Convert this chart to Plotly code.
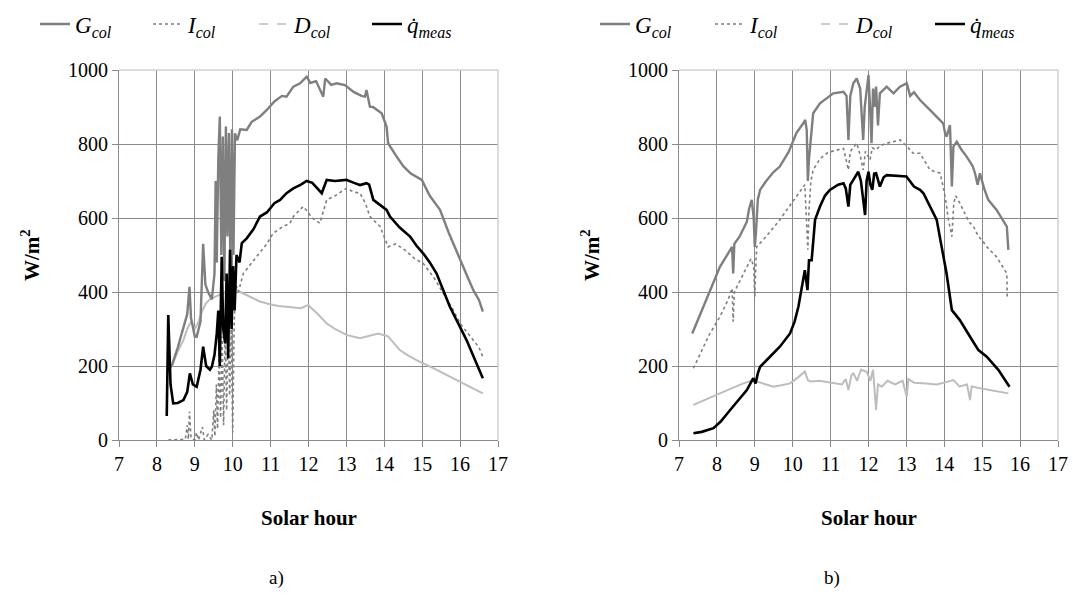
import plotly.graph_objects as go

# ---------------- Data: panel a) ----------------
a_G_t = [8.30, 8.40, 8.55, 8.70, 8.80, 8.86, 8.90, 9.00, 9.05, 9.15, 9.22, 9.28, 9.35, 9.45, 9.52, 9.55,
         9.58, 9.62, 9.66, 9.70, 9.74, 9.78, 9.82, 9.86, 9.90, 9.94, 9.98, 10.02, 10.06, 10.12, 10.20,
         10.37, 10.50, 10.72, 10.90, 11.10, 11.30, 11.42, 11.60, 11.78, 11.95, 12.05, 12.20, 12.39, 12.44,
         12.60, 12.74, 12.96, 13.20, 13.40, 13.49, 13.53, 13.62, 13.70, 13.93, 14.06, 14.10, 14.30, 14.50,
         14.70, 14.99, 15.20, 15.47, 15.70, 16.00, 16.20, 16.35, 16.50, 16.60]
a_G_v = [190, 203, 250, 300, 340, 414, 330, 280, 279, 320, 530, 420, 400, 380, 450, 700,
         480, 760, 874, 500, 820, 430, 847, 550, 830, 450, 840, 500, 829, 810, 840,
         838, 860, 874, 892, 915, 930, 928, 955, 964, 982, 965, 970, 928, 977,
         960, 964, 959, 940, 930, 928, 946, 901, 900, 883, 847, 802, 770, 740,
         720, 703, 660, 622, 560, 486, 440, 405, 378, 347]

a_I_t = [8.30, 8.60, 8.75, 8.80, 8.83, 8.86, 8.90, 9.00, 9.05, 9.10, 9.20, 9.25, 9.35, 9.45, 9.50, 9.53,
         9.57, 9.60, 9.64, 9.68, 9.72, 9.76, 9.80, 9.84, 9.88, 9.92, 9.96, 10.00, 10.04, 10.08, 10.15,
         10.28, 10.50, 10.72, 10.90, 11.07, 11.30, 11.51, 11.60, 11.86, 11.95, 12.10, 12.30, 12.48, 12.70,
         13.00, 13.20, 13.36, 13.50, 13.62, 13.89, 14.10, 14.30, 14.55, 14.80, 15.03, 15.30, 15.56, 15.80,
         16.00, 16.20, 16.35, 16.50, 16.60]
a_I_v = [0, 0, 2, 40, 2, 77, 5, 0, 20, 0, 35, 0, 15, 0, 80, 10,
         150, 30, 230, 60, 280, 40, 300, 80, 320, 120, 300, 20, 320, 420, 400,
         450, 480, 507, 530, 559, 575, 586, 604, 631, 620, 600, 586, 649, 660,
         680, 670, 667, 640, 604, 577, 522, 530, 513, 490, 477, 440, 396, 355,
         315, 290, 270, 250, 225]

a_D_t = [8.30, 8.40, 8.55, 8.70, 8.80, 8.90, 9.00, 9.10, 9.20, 9.30, 9.40, 9.50, 9.60, 9.70, 9.80, 9.90,
         10.00, 10.10, 10.28, 10.50, 10.70, 10.90, 11.20, 11.42, 11.80, 12.00, 12.04, 12.25, 12.48, 12.70,
         13.00, 13.36, 13.60, 13.84, 14.10, 14.41, 14.60, 14.85, 15.29, 15.60, 16.00, 16.30, 16.60]
a_D_v = [185, 200, 240, 270, 300, 320, 300, 320, 350, 370, 380, 385, 390, 395, 400, 395,
         400, 405, 396, 385, 375, 369, 362, 360, 356, 365, 360, 340, 315, 300,
         284, 275, 282, 288, 280, 243, 230, 216, 194, 178, 158, 142, 126]

a_q_t = [8.26, 8.30, 8.36, 8.43, 8.55, 8.70, 8.80, 8.87, 8.95, 9.05, 9.15, 9.22, 9.30, 9.40, 9.45, 9.52,
         9.58, 9.62, 9.66, 9.71, 9.75, 9.80, 9.84, 9.88, 9.93, 9.97, 10.01, 10.05, 10.10, 10.18, 10.24,
         10.37, 10.55, 10.72, 10.90, 11.10, 11.25, 11.42, 11.60, 11.80, 11.95, 12.10, 12.35, 12.42, 12.48,
         12.70, 13.00, 13.20, 13.36, 13.53, 13.60, 13.71, 13.90, 14.06, 14.15, 14.40, 14.68, 14.85, 15.03,
         15.20, 15.38, 15.55, 15.73, 16.00, 16.17, 16.40, 16.60]
a_q_v = [65, 338, 150, 99, 100, 108, 130, 180, 150, 144, 190, 252, 200, 190, 198, 230,
         288, 350, 200, 495, 300, 261, 450, 220, 514, 300, 470, 350, 500, 480, 532,
         545, 570, 604, 615, 640, 649, 667, 680, 690, 700, 695, 667, 690, 703,
         700, 703, 695, 689, 694, 690, 649, 635, 622, 604, 575, 550, 525, 504,
         480, 450, 405, 360, 305, 270, 215, 167]

# ---------------- Data: panel b) ----------------
b_G_t = [7.35, 7.60, 7.80, 7.99, 8.08, 8.30, 8.40, 8.43, 8.46, 8.60, 8.79, 8.85, 8.92, 8.97, 9.00, 9.03,
         9.08, 9.14, 9.30, 9.50, 9.66, 9.90, 10.10, 10.28, 10.33, 10.37, 10.40, 10.43, 10.47, 10.54, 10.72,
         10.90, 11.07, 11.34, 11.42, 11.47, 11.52, 11.60, 11.69, 11.78, 11.83, 11.86, 11.90, 11.95, 12.00,
         12.04, 12.08, 12.12, 12.16, 12.20, 12.25, 12.30, 12.48, 12.66, 12.83, 13.01, 13.10, 13.20, 13.36,
         13.62, 13.71, 13.97, 14.02, 14.06, 14.15, 14.20, 14.24, 14.33, 14.45, 14.59, 14.75, 14.81, 14.88,
         14.94, 15.05, 15.16, 15.38, 15.55, 15.65, 15.69]
b_G_v = [288, 350, 400, 450, 468, 505, 522, 450, 530, 550, 590, 625, 649, 600, 522, 560,
         650, 676, 700, 725, 739, 780, 830, 856, 865, 838, 700, 760, 800, 883, 910,
         925, 937, 941, 930, 811, 930, 964, 977, 950, 880, 811, 900, 940, 986,
         900, 802, 950, 900, 955, 850, 937, 955, 937, 955, 964, 930, 940, 919,
         892, 883, 856, 830, 820, 851, 685, 793, 806, 785, 766, 740, 721, 690,
         721, 680, 649, 622, 595, 577, 514]

b_I_t = [7.38, 7.60, 7.80, 8.08, 8.30, 8.40, 8.43, 8.46, 8.60, 8.79, 8.90, 8.97, 9.00, 9.03, 9.05, 9.30,
         9.50, 9.66, 9.90, 10.10, 10.28, 10.32, 10.36, 10.40, 10.43, 10.48, 10.54, 10.72, 10.90, 11.10,
         11.34, 11.40, 11.47, 11.52, 11.69, 11.78, 11.86, 11.92, 12.04, 12.10, 12.20, 12.30, 12.48, 12.83,
         13.00, 13.18, 13.36, 13.62, 13.89, 13.97, 14.05, 14.10, 14.20, 14.25, 14.30, 14.41, 14.55, 14.65,
         14.77, 14.90, 15.00, 15.12, 15.38, 15.65, 15.66]
b_I_v = [194, 240, 285, 333, 380, 410, 320, 400, 430, 468, 490, 470, 387, 480, 522, 550,
         575, 595, 630, 660, 685, 690, 600, 514, 622, 700, 730, 760, 775, 782,
         788, 760, 730, 780, 802, 770, 730, 780, 757, 790, 784, 795, 802, 811,
         795, 775, 775, 730, 721, 685, 640, 600, 550, 640, 660, 640, 610, 590,
         577, 550, 540, 522, 495, 450, 387]

b_D_t = [7.38, 7.70, 8.08, 8.40, 8.70, 8.96, 9.05, 9.30, 9.49, 9.70, 9.93, 10.15, 10.32, 10.40, 10.46, 10.70,
         11.07, 11.30, 11.40, 11.47, 11.55, 11.60, 11.70, 11.80, 11.95, 12.05, 12.12, 12.20, 12.25, 12.35,
         12.50, 12.70, 12.90, 13.01, 13.05, 13.20, 13.53, 13.80, 14.00, 14.24, 14.40, 14.60, 14.68, 14.72,
         14.94, 15.20, 15.45, 15.69]
b_D_v = [95, 110, 126, 140, 153, 162, 158, 150, 144, 148, 153, 170, 185, 162, 158, 160,
         153, 150, 165, 135, 175, 180, 160, 190, 185, 160, 190, 81, 150, 144,
         160, 150, 160, 117, 165, 155, 153, 150, 155, 162, 145, 150, 108, 145,
         140, 135, 130, 126]

b_q_t = [7.38, 7.60, 7.91, 8.10, 8.35, 8.60, 8.79, 8.96, 9.02, 9.08, 9.14, 9.40, 9.66, 9.93, 10.05, 10.15,
         10.25, 10.32, 10.39, 10.43, 10.50, 10.59, 10.72, 10.85, 10.98, 11.20, 11.34, 11.40, 11.47, 11.52,
         11.60, 11.73, 11.80, 11.88, 11.91, 11.95, 12.00, 12.05, 12.10, 12.15, 12.20, 12.30, 12.40, 12.48,
         12.83, 13.00, 13.20, 13.36, 13.45, 13.62, 13.80, 13.93, 14.06, 14.20, 14.41, 14.68, 14.90, 15.12,
         15.43, 15.72]
b_q_v = [18, 22, 32, 50, 81, 110, 135, 167, 153, 180, 198, 225, 252, 288, 320, 360,
         420, 459, 405, 486, 486, 595, 631, 660, 676, 690, 694, 680, 631, 690,
         703, 725, 700, 640, 608, 700, 725, 690, 676, 720, 721, 685, 710, 716,
         712, 712, 685, 676, 667, 631, 595, 522, 450, 351, 324, 279, 243, 225,
         189, 144]

x_ticks = [7, 8, 9, 10, 11, 12, 13, 14, 15, 16, 17]
y_ticks = [0, 200, 400, 600, 800, 1000]
series_names = ["G<sub>col</sub>", "I<sub>col</sub>", "D<sub>col</sub>", "q\u0307<sub>meas</sub>"]
panel_labels = ["a)", "b)"]

# ---------------- Styles ----------------
GRAY = "#7f7f7f"
LIGHT = "#bdbdbd"
SERIF = "Liberation Serif, Times New Roman, serif"

fig = go.Figure()

panels = [
    ("x", "y", a_G_t, a_G_v, a_I_t, a_I_v, a_D_t, a_D_v, a_q_t, a_q_v),
    ("x2", "y2", b_G_t, b_G_v, b_I_t, b_I_v, b_D_t, b_D_v, b_q_t, b_q_v),
]
legend_ids = [["legend", "legend2", "legend3", "legend4"], ["legend5", "legend6", "legend7", "legend8"]]

for p, (xa, ya, Gt, Gv, It, Iv, Dt, Dv, qt, qv) in enumerate(panels):
    lg = legend_ids[p]
    fig.add_trace(go.Scatter(x=Dt, y=Dv, xaxis=xa, yaxis=ya, mode="lines", showlegend=False,
                             line=dict(color=LIGHT, width=2)))
    fig.add_trace(go.Scatter(x=It, y=Iv, xaxis=xa, yaxis=ya, mode="lines", name=series_names[1],
                             legend=lg[1], line=dict(color=GRAY, width=1.6, dash="dot")))
    fig.add_trace(go.Scatter(x=Gt, y=Gv, xaxis=xa, yaxis=ya, mode="lines", name=series_names[0],
                             legend=lg[0], line=dict(color=GRAY, width=2.4)))
    fig.add_trace(go.Scatter(x=qt, y=qv, xaxis=xa, yaxis=ya, mode="lines", name=series_names[3],
                             legend=lg[3], line=dict(color="black", width=2.6)))
    # legend entry for D (dashed symbol)
    fig.add_trace(go.Scatter(x=[None], y=[None], xaxis=xa, yaxis=ya, mode="lines", name=series_names[2],
                             legend=lg[2], line=dict(color=LIGHT, width=1.6, dash="dash")))

W, H = 1073, 601
x_domains = [[119 / W, 498 / W], [679 / W, 1058 / W]]
y_domain = [1 - 440 / H, 1 - 70 / H]

axis_common = dict(range=[7, 17], tickvals=x_ticks, showgrid=True, gridcolor="#8a8a8a", gridwidth=1,
                   showline=True, linecolor="#8a8a8a", linewidth=1, ticks="outside", ticklen=6,
                   tickcolor="#8a8a8a", zeroline=False,
                   tickfont=dict(family=SERIF, size=20, color="black"))
yaxis_common = dict(range=[0, 1000], tickvals=y_ticks, showgrid=True, gridcolor="#8a8a8a", gridwidth=1,
                    showline=True, linecolor="#8a8a8a", linewidth=1, ticks="outside", ticklen=6,
                    tickcolor="#8a8a8a", zeroline=False,
                    tickfont=dict(family=SERIF, size=20, color="black"))

layout = dict(
    width=W, height=H, margin=dict(l=0, r=0, t=0, b=0, autoexpand=False),
    paper_bgcolor="white", plot_bgcolor="white", showlegend=True,
    xaxis=dict(domain=x_domains[0], anchor="y", **axis_common),
    yaxis=dict(domain=y_domain, anchor="x", **yaxis_common),
    xaxis2=dict(domain=x_domains[1], anchor="y2", **axis_common),
    yaxis2=dict(domain=y_domain, anchor="x2", **yaxis_common),
)

# legends: one per entry, placed along the top
leg_x = [[35, 148, 254, 367], [595, 710, 816, 930]]
for p in range(2):
    for k in range(4):
        layout[legend_ids[p][k]] = dict(
            x=leg_x[p][k] / W, y=1 - 24 / H, xanchor="left", yanchor="middle",
            orientation="h", bgcolor="rgba(0,0,0,0)", borderwidth=0,
            font=dict(family=SERIF, size=23, color="black", style="italic"),
            itemwidth=30, tracegroupgap=0)

fig.update_layout(**layout)

# light border on top/right of each plot area
for xa, ya in [("x", "y"), ("x2", "y2")]:
    fig.add_shape(type="line", xref=f"{xa} domain", yref=f"{ya} domain", x0=0, x1=1, y0=1, y1=1,
                  line=dict(color="#d0d0d0", width=1.5), layer="above")
    fig.add_shape(type="line", xref=f"{xa} domain", yref=f"{ya} domain", x0=1, x1=1, y0=0, y1=1,
                  line=dict(color="#d0d0d0", width=1.5), layer="above")

# axis titles and panel labels
for p, xa in enumerate(["x", "x2"]):
    cx = (x_domains[p][0] + x_domains[p][1]) / 2
    fig.add_annotation(text="<b>Solar hour</b>", xref="paper", yref="paper", x=cx, y=1 - 518 / H,
                       showarrow=False, xanchor="center", yanchor="middle",
                       font=dict(family=SERIF, size=21, color="black"))
    fig.add_annotation(text="<b>W/m<sup>2</sup></b>", xref="paper", yref="paper",
                       x=(30 if p == 0 else 590) / W, y=1 - 255 / H, textangle=-90,
                       showarrow=False, xanchor="center", yanchor="middle",
                       font=dict(family=SERIF, size=21, color="black"))
    fig.add_annotation(text=panel_labels[p], xref="paper", yref="paper",
                       x=(276 if p == 0 else 832) / W, y=1 - 578 / H,
                       showarrow=False, xanchor="center", yanchor="middle",
                       font=dict(family=SERIF, size=19, color="black"))

fig.write_html("out.html", config={"displayModeBar": False},
               post_script="document.body.style.margin='0';")
